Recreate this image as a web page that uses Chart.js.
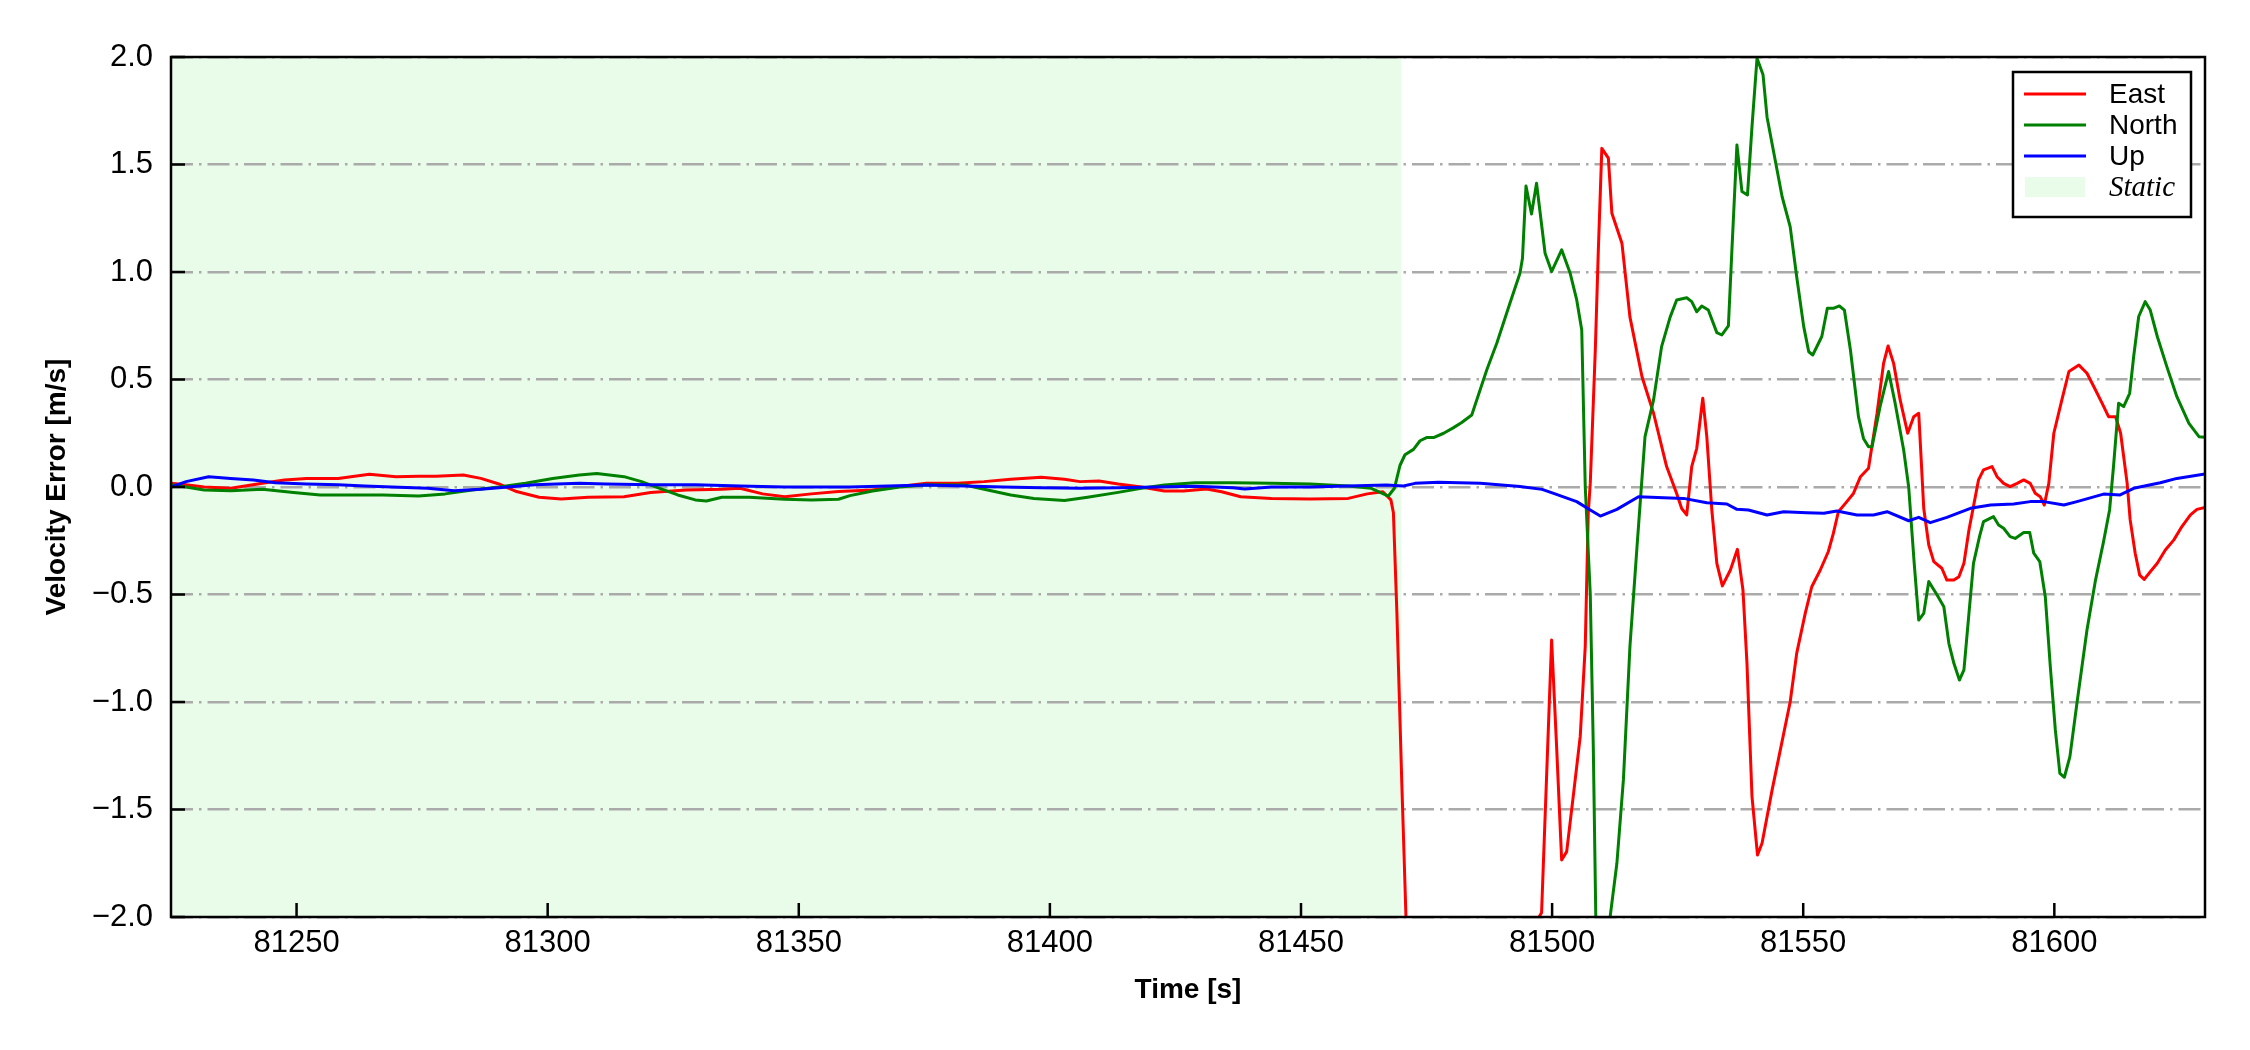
<!DOCTYPE html>
<html>
<head>
<meta charset="utf-8">
<script src="https://cdn.jsdelivr.net/npm/chart.js@4.4.1/dist/chart.umd.min.js"></script>
<style>
  html, body { margin: 0; padding: 0; background: #fff; }
  canvas { display: block; }
</style>
</head>
<body>
<canvas id="chart" width="2250" height="1050"></canvas>
<script>
// axis limits and ticks
const timeRange = [81225, 81630];
const timeStep = 50;
const velRange = [-2, 2];
const velStep = 0.5;
const staticSpan = [81225, 81470];

const seriesNames = ['East', 'North', 'Up'];
const seriesColors = ['#ff0000', '#008000', '#0000ff'];
const staticLabel = 'Static';
const staticColor = '#e9fce9';

// East velocity error
const eastTime = [
  81225, 81228.0, 81231.6, 81236.9, 81243.2, 81247.6, 81252.0, 81258.3, 81264.5, 81269.8,
  81274.3, 81277.8, 81283.2, 81286.7, 81290.3, 81293.8, 81298.3, 81302.7, 81308.1, 81315.2,
  81320.5, 81327.6, 81334.7, 81338.3, 81342.8, 81347.2, 81352.5, 81357.9, 81364.7, 81369.3,
  81375.4, 81381.5, 81386.9, 81392.2, 81398.3, 81402.9, 81406.0, 81409.8, 81413.6, 81418.2,
  81422.8, 81426.6, 81431.2, 81434.2, 81438.0, 81444.1, 81451.8, 81459.4, 81463.2, 81466.3,
  81467.9, 81468.4, 81469.1, 81470.05, 81470.9, 81472.0, 81495.5, 81496.9, 81497.9, 81499.9,
  81500.9, 81501.9, 81502.9, 81504.2, 81505.6, 81506.6, 81507.2, 81507.6, 81508.6, 81509.2,
  81509.9, 81511.2, 81511.9, 81513.9, 81515.5, 81517.9, 81520.2, 81522.8, 81524.8, 81525.8,
  81526.8, 81527.8, 81528.8, 81530.0, 81530.8, 81531.8, 81532.8, 81533.9, 81535.5, 81536.9,
  81538.0, 81538.8, 81539.8, 81540.9, 81541.8, 81543.8, 81547.4, 81548.7, 81550.4, 81551.7,
  81553.4, 81555.0, 81556.0, 81557.0, 81558.4, 81560.0, 81561.4, 81563.0, 81564.7, 81566.0,
  81566.9, 81568.0, 81569.3, 81570.8, 81572.0, 81573.0, 81574.0, 81575.0, 81576.0, 81577.6,
  81578.6, 81580.0, 81581.0, 81582.0, 81583.0, 81583.9, 81584.9, 81585.9, 81587.6, 81588.6,
  81589.9, 81591.2, 81592.6, 81593.9, 81595.2, 81596.2, 81597.2, 81598.0, 81598.9, 81599.9,
  81601.5, 81602.9, 81604.9, 81606.5, 81608.2, 81609.5, 81610.8, 81612.2, 81613.2, 81614.5,
  81615.1, 81616.1, 81617.0, 81617.9, 81619.1, 81620.5, 81622.1, 81623.8, 81625.4, 81627.1,
  81628.4, 81630
];
const eastVel = [
  0.017, 0.01, 0.0, -0.006, 0.017, 0.033, 0.04, 0.04, 0.059, 0.048,
  0.05, 0.05, 0.056, 0.04, 0.014, -0.021, -0.048, -0.056, -0.048, -0.045,
  -0.026, -0.014, -0.01, -0.006, -0.032, -0.045, -0.032, -0.021, -0.014, 0.0,
  0.017, 0.017, 0.025, 0.036, 0.045, 0.036, 0.025, 0.028, 0.014, 0.0,
  -0.019, -0.019, -0.009, -0.022, -0.045, -0.053, -0.056, -0.053, -0.032, -0.022,
  -0.06, -0.12, -0.59, -1.36, -2.0, -3.0, -3.0, -2.02, -1.98, -0.712,
  -1.21, -1.735, -1.696, -1.44, -1.16, -0.74, -0.12, 0.018, 0.637, 1.10,
  1.575, 1.53, 1.273, 1.134, 0.79, 0.513, 0.343, 0.095, -0.03, -0.10,
  -0.13, 0.095, 0.18, 0.413, 0.234, -0.107, -0.355, -0.46, -0.386, -0.29,
  -0.479, -0.82, -1.44, -1.712, -1.657, -1.41, -1.0, -0.774, -0.588, -0.464,
  -0.386, -0.30, -0.216, -0.115, -0.076, -0.03, 0.048, 0.087, 0.343, 0.575,
  0.656, 0.575, 0.405, 0.25, 0.327, 0.343, -0.1, -0.27, -0.347, -0.378,
  -0.433, -0.433, -0.417, -0.355, -0.2, -0.09, 0.033, 0.08, 0.095, 0.048,
  0.017, 0.002, 0.017, 0.033, 0.017, -0.029, -0.045, -0.084, 0.017, 0.25,
  0.405, 0.537, 0.567, 0.529, 0.451, 0.39, 0.327, 0.327, 0.25, 0.017,
  -0.153, -0.308, -0.41, -0.43, -0.394, -0.355, -0.293, -0.246, -0.184, -0.13,
  -0.104, -0.095
];

// North velocity error
const northTime = [
  81225, 81228.0, 81231.6, 81236.9, 81243.2, 81249.4, 81254.7, 81260.0, 81267.2, 81274.3,
  81279.6, 81285.0, 81290.3, 81295.6, 81301.0, 81306.3, 81309.8, 81315.2, 81318.7, 81322.3,
  81325.9, 81329.4, 81331.6, 81334.7, 81340.1, 81347.2, 81352.5, 81357.9, 81360.2, 81364.7,
  81370.1, 81375.4, 81383.1, 81387.6, 81392.2, 81396.8, 81402.9, 81407.5, 81413.6, 81418.2,
  81422.8, 81428.9, 81436.5, 81444.1, 81451.8, 81459.4, 81464.0, 81467.4, 81468.6, 81469.7,
  81470.7, 81472.4, 81473.7, 81475.0, 81476.4, 81478.4, 81480.3, 81482.0, 81484.0, 81487.0,
  81489.0, 81491.6, 81493.6, 81494.1, 81494.8, 81495.9, 81496.9, 81498.6, 81499.9, 81501.9,
  81503.6, 81504.9, 81505.9, 81506.6, 81507.6, 81508.2, 81508.7, 81510.0, 81511.55, 81512.9,
  81514.2, 81515.5, 81516.9, 81518.5, 81520.2, 81521.8, 81523.5, 81524.8, 81526.8, 81527.8,
  81528.8, 81529.8, 81531.1, 81532.8, 81533.8, 81535.1, 81535.8, 81536.8, 81537.8, 81538.9,
  81539.8, 81540.8, 81542.0, 81542.8, 81545.8, 81547.4, 81548.7, 81550.1, 81551.1, 81551.9,
  81553.7, 81554.8, 81556.0, 81557.2, 81558.2, 81559.4, 81561.0, 81562.0, 81563.0, 81563.7,
  81565.3, 81567.0, 81568.3, 81570.0, 81571.0, 81572.1, 81573.0, 81574.0, 81575.0,
  81576.6, 81578.0, 81579.0, 81580.0, 81581.1, 81582.0, 81583.0, 81583.9, 81585.1, 81585.9,
  81587.9, 81588.9, 81589.9, 81591.2, 81592.2, 81593.9, 81595.1, 81595.9, 81597.1, 81598.2,
  81599.2, 81600.2, 81601.1, 81602.0, 81603.1, 81604.5, 81606.5, 81608.2, 81609.8, 81611.0,
  81611.8, 81612.8, 81613.8, 81615.0, 81615.8, 81616.8, 81618.1, 81619.1, 81620.5, 81622.4,
  81624.4, 81626.8, 81628.8, 81630
];
const northVel = [
  0.01, 0.0, -0.014, -0.017, -0.01, -0.026, -0.037, -0.037, -0.037, -0.042,
  -0.032, -0.014, 0.0, 0.017, 0.04, 0.056, 0.063, 0.048, 0.025, -0.006,
  -0.037, -0.06, -0.065, -0.048, -0.048, -0.057, -0.06, -0.057, -0.04, -0.019,
  0.0, 0.011, 0.009, -0.014, -0.037, -0.053, -0.063, -0.048, -0.025, -0.006,
  0.009, 0.02, 0.02, 0.017, 0.014, 0.005, -0.006, -0.042, -0.006, 0.10,
  0.15, 0.175, 0.215, 0.23, 0.23, 0.25, 0.275, 0.30, 0.335, 0.545,
  0.67, 0.855, 0.994, 1.064, 1.40, 1.27, 1.413, 1.087, 1.002, 1.103,
  0.994, 0.87, 0.73, 0.0, -0.5, -1.21, -2.0, -2.7, -2.0, -1.75,
  -1.36, -0.74, -0.28, 0.234, 0.405, 0.653, 0.79, 0.87, 0.88, 0.862,
  0.815, 0.842, 0.823, 0.718, 0.707, 0.749, 1.102, 1.591, 1.374, 1.358,
  1.676, 1.994, 1.917, 1.72, 1.35, 1.211, 0.978, 0.746, 0.629, 0.614,
  0.70, 0.831, 0.831, 0.842, 0.823, 0.637, 0.327, 0.226, 0.187, 0.187,
  0.374, 0.537, 0.39, 0.172, 0.0, -0.355, -0.619, -0.588, -0.44,
  -0.50, -0.557, -0.727, -0.82, -0.898, -0.851, -0.588, -0.355, -0.231, -0.161,
  -0.138, -0.177, -0.192, -0.231, -0.239, -0.212, -0.212, -0.308, -0.347, -0.51,
  -0.836, -1.13, -1.332, -1.35, -1.254, -1.006, -0.665, -0.433, -0.254, -0.107,
  0.10, 0.39, 0.374, 0.436, 0.607, 0.793, 0.862, 0.823, 0.70, 0.56,
  0.42, 0.296, 0.234, 0.231
];

// Up velocity error
const upTime = [
  81225, 81228.0, 81232.5, 81236.9, 81241.4, 81245.8, 81252.0, 81258.3, 81263.6, 81269.0,
  81276.1, 81281.4, 81286.7, 81290.3, 81297.4, 81306.3, 81311.6, 81320.5, 81329.4, 81338.3,
  81347.2, 81360.2, 81367.8, 81375.4, 81383.1, 81390.7, 81398.3, 81406.0, 81413.6, 81421.2,
  81428.9, 81436.5, 81438.8, 81444.1, 81451.8, 81459.4, 81467.0, 81470.4, 81472.7, 81477.4,
  81485.7, 81493.6, 81498.0, 81500.3, 81504.9, 81507.6, 81509.6, 81512.9, 81517.2, 81522.2,
  81526.2, 81530.8, 81534.8, 81536.8, 81539.1, 81542.8, 81546.1, 81550.7, 81554.1, 81556.7,
  81560.7, 81564.0, 81566.7, 81571.0, 81573.0, 81575.3, 81578.6, 81583.3, 81587.3, 81591.9,
  81595.2, 81597.9, 81601.9, 81604.5, 81609.8, 81613.1, 81615.8, 81621.1, 81624.4, 81630
];
const upVel = [
  0.0, 0.025, 0.048, 0.04, 0.033, 0.02, 0.014, 0.01, 0.005, 0.0,
  -0.006, -0.017, -0.01, -0.003, 0.01, 0.017, 0.014, 0.01, 0.01, 0.005,
  0.0, 0.0, 0.005, 0.009, 0.005, 0.0, -0.003, -0.006, -0.003, 0.0,
  0.003, -0.003, -0.009, 0.0, 0.0, 0.005, 0.009, 0.005, 0.017, 0.022,
  0.017, 0.002, -0.011, -0.03, -0.068, -0.107, -0.135, -0.104, -0.045, -0.05,
  -0.053, -0.073, -0.079, -0.104, -0.107, -0.13, -0.115, -0.12, -0.122, -0.112,
  -0.13, -0.13, -0.115, -0.157, -0.141, -0.166, -0.141, -0.099, -0.084, -0.079,
  -0.068, -0.068, -0.084, -0.068, -0.033, -0.037, -0.006, 0.02, 0.04, 0.06
];

const seriesTime = [eastTime, northTime, upTime];
const seriesVel = [eastVel, northVel, upVel];

const sans = "'Liberation Sans', Arial, sans-serif";
const serif = "'Liberation Serif', 'Times New Roman', serif";

function fmtVel(v) {
  return (v < 0 ? '\u2212' : '') + Math.abs(v).toFixed(1);
}

//Background, static shading, frame, inward ticks and legend
const decor = {
  id: 'decor',
  beforeDraw(chart) {
    const {ctx, chartArea: a, scales: {x}} = chart;
    ctx.save();
    ctx.fillStyle = '#fff';
    ctx.fillRect(0, 0, chart.width, chart.height);
    const x0 = x.getPixelForValue(staticSpan[0]);
    const x1 = x.getPixelForValue(staticSpan[1]);
    ctx.fillStyle = staticColor;
    ctx.fillRect(x0, a.top, x1 - x0, a.bottom - a.top);
    ctx.restore();
  },
  afterDraw(chart) {
    const {ctx, chartArea: a, scales: {x, y}} = chart;
    ctx.save();
    ctx.strokeStyle = '#000';
    ctx.lineWidth = 2.5;
    ctx.strokeRect(a.left, a.top, a.right - a.left, a.bottom - a.top);
    ctx.beginPath();
    x.ticks.forEach(t => {
      const px = x.getPixelForValue(t.value);
      ctx.moveTo(px, a.bottom);
      ctx.lineTo(px, a.bottom - 14);
    });
    y.ticks.forEach(t => {
      const py = y.getPixelForValue(t.value);
      ctx.moveTo(a.left, py);
      ctx.lineTo(a.left + 14, py);
    });
    ctx.stroke();

    // legend
    const bw = 178, bh = 145;
    const bx = a.right - 14 - bw, by = a.top + 15;
    ctx.fillStyle = '#fff';
    ctx.fillRect(bx, by, bw, bh);
    ctx.strokeRect(bx, by, bw, bh);
    const rowH = 31;
    const y0 = by + 22;
    ctx.textBaseline = 'middle';
    ctx.textAlign = 'left';
    seriesNames.forEach((name, i) => {
      const ry = y0 + i * rowH;
      ctx.strokeStyle = seriesColors[i];
      ctx.lineWidth = 3;
      ctx.beginPath();
      ctx.moveTo(bx + 11, ry);
      ctx.lineTo(bx + 73, ry);
      ctx.stroke();
      ctx.fillStyle = '#000';
      ctx.font = '28px ' + sans;
      ctx.fillText(name, bx + 96, ry + 1);
    });
    const sy = y0 + 3 * rowH;
    ctx.fillStyle = staticColor;
    ctx.fillRect(bx + 12, sy - 10, 60, 20);
    ctx.fillStyle = '#000';
    ctx.font = 'italic 29px ' + serif;
    ctx.fillText(staticLabel, bx + 96, sy + 1);
    ctx.restore();
  }
};

const datasets = seriesNames.map((name, i) => ({
  label: name,
  data: seriesTime[i].map((t, j) => ({x: t, y: seriesVel[i][j]})),
  borderColor: seriesColors[i],
  borderWidth: 3,
  borderJoinStyle: 'round',
  pointRadius: 0,
  tension: 0,
  fill: false,
  order: seriesNames.length - i
}));

new Chart(document.getElementById('chart'), {
  type: 'line',
  data: { datasets: datasets },
  options: {
    responsive: false,
    devicePixelRatio: 1,
    animation: false,
    events: [],
    layout: { padding: { top: 57, right: 45, left: 0, bottom: 0 } },
    plugins: { legend: { display: false }, tooltip: { enabled: false } },
    scales: {
      x: {
        type: 'linear',
        min: timeRange[0],
        max: timeRange[1],
        afterFit: s => { s.height = 133; },
        grid: { display: false, drawTicks: false },
        border: { display: false },
        ticks: {
          stepSize: timeStep,
          includeBounds: false,
          maxRotation: 0,
          padding: 8,
          color: '#000',
          font: { family: sans, size: 31 },
          callback: v => String(v)
        },
        title: {
          display: true,
          text: 'Time [s]',
          color: '#000',
          font: { family: sans, size: 28, weight: 'bold' },
          padding: { top: 0, bottom: 43 }
        }
      },
      y: {
        min: velRange[0],
        max: velRange[1],
        afterFit: s => { s.width = 171; },
        grid: { color: '#aaaaaa', lineWidth: 2.5, drawTicks: false },
        border: { display: false, dash: [22, 6, 2.5, 6] },
        ticks: {
          stepSize: velStep,
          padding: 18,
          color: '#000',
          font: { family: sans, size: 31 },
          callback: v => fmtVel(v)
        },
        title: {
          display: true,
          text: 'Velocity Error [m/s]',
          color: '#000',
          font: { family: sans, size: 28, weight: 'bold' },
          padding: { top: 40, bottom: 0 }
        }
      }
    }
  },
  plugins: [decor]
});
</script>
</body>
</html>
